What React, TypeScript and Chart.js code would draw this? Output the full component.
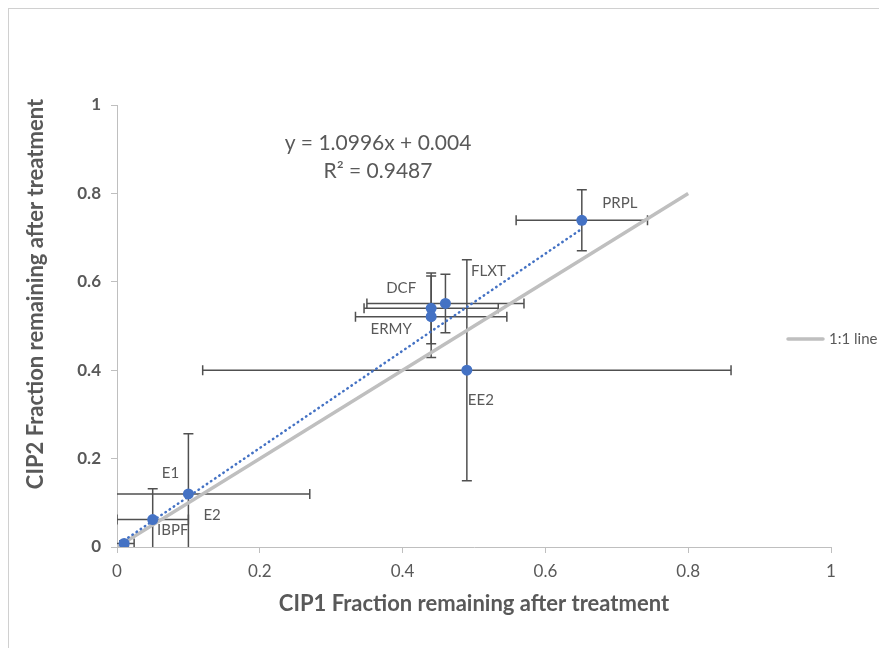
import React, { useEffect, useRef } from "react";
import { Chart, registerables } from "chart.js";

Chart.register(...registerables);

// ---- data ----
const compounds = ["PRPL", "FLXT", "DCF", "ERMY", "EE2", "E1", "IBPF", "E2"];
const cip1Values = [0.651, 0.46, 0.44, 0.44, 0.49, 0.1, 0.05, 0.01];
const cip2Values = [0.739, 0.551, 0.54, 0.521, 0.4, 0.12, 0.062, 0.008];
const cip1Errors = [0.092, 0.11, 0.094, 0.106, 0.37, 0.17, 0.05, 0.014];
const cip2Errors = [0.069, 0.066, 0.08, 0.092, 0.25, 0.136, 0.07, 0.006];
const oneToOneX = [0, 0.8];
const oneToOneY = [0, 0.8];
const trendSlope = 1.0996;
const trendIntercept = 0.004;
const rSquared = 0.9487;
const axisTicks = [0, 0.2, 0.4, 0.6, 0.8, 1];
const xAxisTitle = "CIP1 Fraction remaining after treatment";
const yAxisTitle = "CIP2 Fraction remaining after treatment";
const oneToOneLabel = "1:1 line";

// ---- label placement (pixel offsets from each point) ----
const labelOffsets: [number, number][] = [
  [38, -17],
  [43, -32],
  [-30, -20],
  [-40, 12],
  [14, 30],
  [-18, -21],
  [20, 11],
  [88, -28],
];

const TEXT = "#595959";
const FONT = "Lato";

const scatterData = cip1Values.map((x, i) => ({ x, y: cip2Values[i] }));
const oneToOneData = oneToOneX.map((x, i) => ({ x, y: oneToOneY[i] }));
const minX = Math.min(...cip1Values);
const maxX = Math.max(...cip1Values);
const trendData = [minX, maxX].map((x) => ({ x, y: trendSlope * x + trendIntercept }));

const decorations = {
  id: "decorations",
  beforeDatasetsDraw(chart: any) {
    const { ctx, chartArea: a, scales } = chart;
    const xs = scales.x;
    const ys = scales.y;
    ctx.save();
    ctx.beginPath();
    ctx.rect(a.left, a.top, a.right - a.left, a.bottom - a.top);
    ctx.clip();
    ctx.strokeStyle = "#505050";
    ctx.lineWidth = 1.5;
    const cap = 5;
    cip1Values.forEach((cx, i) => {
      const cy = cip2Values[i];
      const px = xs.getPixelForValue(cx);
      const py = ys.getPixelForValue(cy);
      const x0 = xs.getPixelForValue(cx - cip1Errors[i]);
      const x1 = xs.getPixelForValue(cx + cip1Errors[i]);
      const y0 = ys.getPixelForValue(cy - cip2Errors[i]);
      const y1 = ys.getPixelForValue(cy + cip2Errors[i]);
      ctx.beginPath();
      ctx.moveTo(x0, py);
      ctx.lineTo(x1, py);
      ctx.moveTo(x0, py - cap);
      ctx.lineTo(x0, py + cap);
      ctx.moveTo(x1, py - cap);
      ctx.lineTo(x1, py + cap);
      ctx.moveTo(px, y0);
      ctx.lineTo(px, y1);
      ctx.moveTo(px - cap, y0);
      ctx.lineTo(px + cap, y0);
      ctx.moveTo(px - cap, y1);
      ctx.lineTo(px + cap, y1);
      ctx.stroke();
    });
    ctx.restore();
  },
  afterDatasetsDraw(chart: any) {
    const { ctx, scales } = chart;
    const xs = scales.x;
    const ys = scales.y;
    ctx.save();
    // data labels
    ctx.fillStyle = TEXT;
    ctx.font = `15px ${FONT}`;
    ctx.textAlign = "center";
    ctx.textBaseline = "middle";
    compounds.forEach((name, i) => {
      const px = xs.getPixelForValue(cip1Values[i]);
      const py = ys.getPixelForValue(cip2Values[i]);
      ctx.fillText(name, px + labelOffsets[i][0], py + labelOffsets[i][1]);
    });
    // trendline equation
    ctx.font = `21px ${FONT}`;
    ctx.fillText(`y = ${trendSlope}x + ${trendIntercept}`, 369, 134);
    ctx.fillText(`R\u00B2 = ${rSquared}`, 369, 162);
    // legend (only the 1:1 line entry)
    const ds = chart.data.datasets.find((d: any) => d.label === oneToOneLabel);
    if (ds) {
      ctx.strokeStyle = ds.borderColor;
      ctx.lineWidth = ds.borderWidth;
      ctx.lineCap = "round";
      ctx.beginPath();
      ctx.moveTo(779, 330);
      ctx.lineTo(814, 330);
      ctx.stroke();
      ctx.font = `15px ${FONT}`;
      ctx.textAlign = "left";
      ctx.fillText(ds.label, 820, 330);
    }
    // y-axis title
    ctx.translate(27, 285);
    ctx.rotate(-Math.PI / 2);
    ctx.font = `bold 22px ${FONT}`;
    ctx.textAlign = "center";
    ctx.fillText(yAxisTitle, 0, 0);
    ctx.restore();
  },
};

export default function App() {
  const ref = useRef<HTMLCanvasElement>(null);
  useEffect(() => {
    const canvas = ref.current;
    if (!canvas) return;
    Chart.defaults.font.family = FONT;
    const chart = new Chart(canvas, {
      type: "scatter",
      data: {
        datasets: [
          {
            label: "CIP data",
            data: scatterData,
            backgroundColor: "#4472C4",
            borderColor: "#4472C4",
            pointRadius: 5.5,
            pointBorderWidth: 0,
            showLine: false,
            order: 0,
          },
          {
            label: "Linear trend",
            data: trendData,
            showLine: true,
            borderColor: "#4472C4",
            borderWidth: 2.5,
            borderDash: [0.5, 4.5],
            borderCapStyle: "round",
            pointRadius: 0,
            order: 1,
          },
          {
            label: oneToOneLabel,
            data: oneToOneData,
            showLine: true,
            borderColor: "#BFBFBF",
            borderWidth: 3.5,
            pointRadius: 0,
            order: 2,
          },
        ],
      } as any,
      options: {
        responsive: false,
        devicePixelRatio: 1,
        animation: false,
        events: [],
        layout: { padding: { top: 96, right: 48, left: 0, bottom: 0 } },
        plugins: {
          legend: { display: false },
          tooltip: { enabled: false },
        },
        scales: {
          x: {
            type: "linear",
            min: 0,
            max: 1,
            afterFit: (s: any) => {
              s.height = 101;
            },
            afterBuildTicks: (s: any) => {
              s.ticks = axisTicks.map((v) => ({ value: v }));
            },
            border: { display: true, color: "#BFBFBF", width: 1 },
            grid: { drawOnChartArea: false, drawTicks: true, tickLength: 6, tickColor: "#BFBFBF" },
            ticks: { color: TEXT, font: { size: 17 }, padding: 8, callback: (v: any) => String(v) },
            title: {
              display: true,
              text: xAxisTitle,
              color: TEXT,
              font: { size: 22, weight: "bold" },
              padding: { top: 0, bottom: 31 },
            },
          },
          y: {
            type: "linear",
            min: 0,
            max: 1,
            afterFit: (s: any) => {
              s.width = 108;
            },
            afterBuildTicks: (s: any) => {
              s.ticks = axisTicks.map((v) => ({ value: v }));
            },
            border: { display: true, color: "#BFBFBF", width: 1 },
            grid: { drawOnChartArea: false, drawTicks: true, tickLength: 6, tickColor: "#BFBFBF" },
            ticks: { color: TEXT, font: { size: 17, weight: "bold" }, padding: 10, callback: (v: any) => String(v) },
          },
        },
      } as any,
      plugins: [decorations],
    });
    return () => chart.destroy();
  }, []);

  return (
    <div
      style={{
        width: 871,
        height: 640,
        boxSizing: "border-box",
        borderLeft: "1px solid #D0D0D0",
        borderTop: "1px solid #D0D0D0",
        background: "#ffffff",
      }}
    >
      <canvas ref={ref} width={870} height={639} style={{ display: "block", width: 870, height: 639 }} />
    </div>
  );
}
